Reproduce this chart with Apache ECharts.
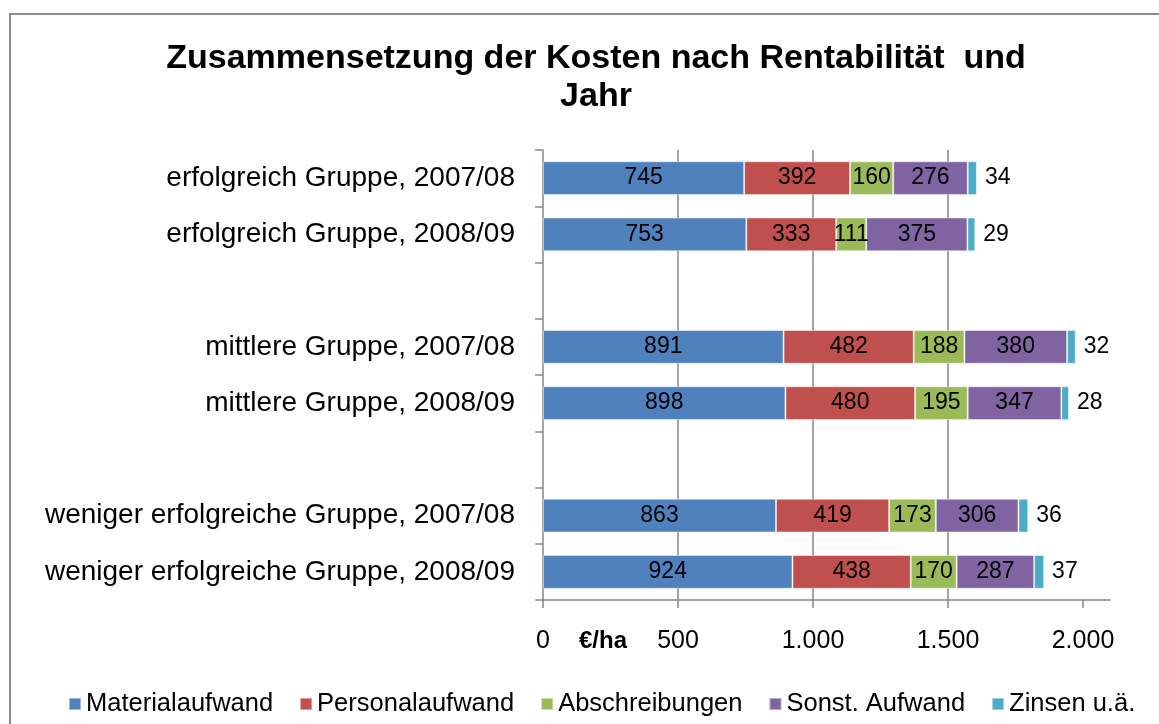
<!DOCTYPE html>
<html>
<head>
<meta charset="utf-8">
<script src="https://cdn.jsdelivr.net/npm/echarts@6/dist/echarts.min.js"></script>
<style>
    html, body { margin: 0; padding: 0; background: #fff; }
    #chart { width: 1159px; height: 724px; }
</style>
</head>
<body>
<div id="chart"></div>
<script>
// Categories (empty strings are the gaps between the groups)
const categories = [
    'erfolgreich Gruppe, 2007/08',
    'erfolgreich Gruppe, 2008/09',
    '',
    'mittlere Gruppe, 2007/08',
    'mittlere Gruppe, 2008/09',
    '',
    'weniger erfolgreiche Gruppe, 2007/08',
    'weniger erfolgreiche Gruppe, 2008/09'
];

const seriesNames = ['Materialaufwand', 'Personalaufwand', 'Abschreibungen', 'Sonst. Aufwand', 'Zinsen u.ä.'];

const materialaufwand = [745, 753, '-', 891, 898, '-', 863, 924];
const personalaufwand = [392, 333, '-', 482, 480, '-', 419, 438];
const abschreibungen  = [160, 111, '-', 188, 195, '-', 173, 170];
const sonstAufwand    = [276, 375, '-', 380, 347, '-', 306, 287];
const zinsen          = [34, 29, '-', 32, 28, '-', 36, 37];

const xTicks = [0, 500, 1000, 1500, 2000];

const colors = ['#4F81BD', '#C0504D', '#9BBB59', '#8064A2', '#4BACC6'];
const font = 'Liberation Sans, Arial, sans-serif';
const axisGray = '#868686';

function fmt(v) {
    return String(v).replace(/\B(?=(\d{3})+(?!\d))/g, '.');
}

function makeSeries(name, data, idx) {
    const outside = idx === 4;
    return {
        name: name,
        type: 'bar',
        stack: 'total',
        data: data,
        barCategoryGap: '40%',
        itemStyle: { color: colors[idx], borderColor: 'rgba(255,255,255,0.45)', borderWidth: 1 },
        label: {
            show: true,
            position: outside ? 'right' : 'inside',
            distance: 8,
            color: '#000',
            fontFamily: font,
            fontSize: 23
        }
    };
}

const chart = echarts.init(document.getElementById('chart'));
chart.setOption({
    animation: false,
    color: colors,
    title: {
        text: 'Zusammensetzung der Kosten nach Rentabilität  und\nJahr',
        left: 591,
        textAlign: 'center',
        top: 35,
        textStyle: { fontFamily: font, fontSize: 34, fontWeight: 'bold', color: '#000', lineHeight: 38 }
    },
    legend: {
        data: seriesNames,
        top: 686,
        left: 63,
        icon: 'rect',
        itemWidth: 12,
        itemHeight: 12,
        itemGap: 26,
        textStyle: { fontFamily: font, fontSize: 25.5, color: '#000' }
    },
    grid: { left: 543, right: 49, top: 150, bottom: 124, containLabel: false },
    xAxis: {
        type: 'value',
        min: 0,
        max: 2100,
        interval: 500,
        axisLine: { show: true, lineStyle: { color: axisGray, width: 1.5 } },
        axisTick: { show: true, length: 8, customValues: xTicks, lineStyle: { color: axisGray, width: 1.5 } },
        axisLabel: {
            customValues: xTicks,
            margin: 29,
            formatter: fmt,
            color: '#000',
            fontFamily: font,
            fontSize: 25
        },
        splitLine: { show: true, showMaxLine: false, showMinLine: false, lineStyle: { color: axisGray, width: 1.5 } }
    },
    yAxis: {
        type: 'category',
        inverse: true,
        data: categories,
        axisLine: { show: true, lineStyle: { color: axisGray, width: 1.5 } },
        axisTick: { show: true, length: 8, interval: 0, alignWithLabel: false, lineStyle: { color: axisGray, width: 1.5 } },
        axisLabel: { interval: 0, margin: 28, color: '#000', fontFamily: font, fontSize: 28 }
    },
    graphic: [
        {
            type: 'rect',
            shape: { x: 10, y: 14, width: 1200, height: 800 },
            style: { fill: 'none', stroke: '#8c8c8c', lineWidth: 2 },
            silent: true
        },
        {
            type: 'text',
            left: 579,
            top: 629,
            style: { text: '€/ha', fontFamily: font, fontSize: 24, fontWeight: 'bold', fill: '#000' }
        }
    ],
    series: [
        makeSeries(seriesNames[0], materialaufwand, 0),
        makeSeries(seriesNames[1], personalaufwand, 1),
        makeSeries(seriesNames[2], abschreibungen, 2),
        makeSeries(seriesNames[3], sonstAufwand, 3),
        makeSeries(seriesNames[4], zinsen, 4)
    ]
});
</script>
</body>
</html>
